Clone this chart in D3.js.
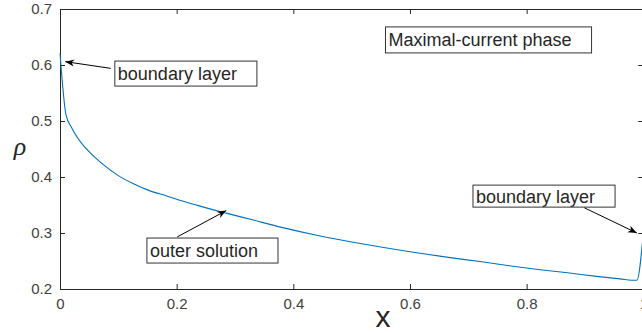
<!DOCTYPE html>
<html>
<head>
<meta charset="utf-8">
<script src="https://cdn.jsdelivr.net/npm/d3@7"></script>
<style>
  body { margin: 0; background: #fff; }
  svg { display: block; font-family: "Liberation Sans", Arial, sans-serif; }
</style>
</head>
<body>
<script>
// density profile
const xs = [0, 0.0103, 0.02, 0.03, 0.045, 0.06, 0.0686, 0.1, 0.126, 0.15, 0.183, 0.21, 0.24, 0.285, 0.33,
            0.38, 0.44, 0.5, 0.555, 0.6, 0.669, 0.72, 0.77, 0.823, 0.87, 0.92, 0.96, 0.989, 1.0];
const rho = [0.621, 0.511, 0.488, 0.470, 0.4505, 0.435, 0.427, 0.4025, 0.388, 0.377, 0.366, 0.357, 0.348, 0.3355, 0.3235,
             0.310, 0.296, 0.284, 0.274, 0.2665, 0.256, 0.249, 0.2415, 0.2345, 0.229, 0.2225, 0.218, 0.2155, 0.30];
const xTicks = [0, 0.2, 0.4, 0.6, 0.8, 1];
const yTicks = [0.2, 0.3, 0.4, 0.5, 0.6, 0.7];

// annotations: text box (data coords of the box's top-left), box height, arrow (from, to)
const notes = [
  { label: "Maximal-current phase", at: [0.558, 0.668], h: 26, arrow: null },
  { label: "boundary layer", at: [0.094, 0.607], h: 25, arrow: [[0.087, 0.594], [0.009, 0.606]] },
  { label: "boundary layer", at: [0.708, 0.3855], h: 22, arrow: [[0.899, 0.345], [0.989, 0.300]] },
  { label: "outer solution", at: [0.149, 0.291], h: 25, arrow: [[0.201, 0.293], [0.285, 0.340]] }
];

const width = 642, height = 333;
const margin = { top: 9, left: 60 };
const plotW = 583.3, plotH = 280;

const svg = d3.select('body').append('svg')
  .attr('width', width)
  .attr('height', height);

const x = d3.scaleLinear().domain([0, 1]).range([margin.left, margin.left + plotW]);
const y = d3.scaleLinear().domain([0.2, 0.7]).range([margin.top + plotH, margin.top]);

const axisColor = '#262626';
const fmt = d => d === 0 || d === 1 ? String(d) : d3.format('.1f')(d);

// axes box with inward ticks
function styleAxis(g) {
  g.select('.domain').attr('stroke', axisColor);
  g.selectAll('.tick line').attr('stroke', axisColor);
  g.selectAll('.tick text').attr('fill', '#404040').attr('font-size', 15)
    .attr('font-family', '"Liberation Sans", Arial, sans-serif');
}

svg.append('g')
  .attr('transform', `translate(0,${y(0.2)})`)
  .call(d3.axisBottom(x).tickValues(xTicks).tickFormat(fmt).tickSizeInner(-5).tickSizeOuter(0).tickPadding(9))
  .call(styleAxis);

svg.append('g')
  .attr('transform', `translate(0,${y(0.7)})`)
  .call(d3.axisTop(x).tickValues(xTicks).tickFormat('').tickSizeInner(-5).tickSizeOuter(0))
  .call(styleAxis);

svg.append('g')
  .attr('transform', `translate(${x(0)},0)`)
  .call(d3.axisLeft(y).tickValues(yTicks).tickFormat(fmt).tickSizeInner(-5).tickSizeOuter(0).tickPadding(8))
  .call(styleAxis);

svg.append('g')
  .attr('transform', `translate(${x(1)},0)`)
  .call(d3.axisRight(y).tickValues(yTicks).tickFormat('').tickSizeInner(-5).tickSizeOuter(0))
  .call(styleAxis);

// the curve
const pts = xs.map((d, i) => [d, rho[i]]);
svg.append('path')
  .datum(pts)
  .attr('fill', 'none')
  .attr('stroke', '#0072BD')
  .attr('stroke-width', 1.1)
  .attr('d', d3.line().x(d => x(d[0])).y(d => y(d[1])).curve(d3.curveMonotoneX));

// axis labels
svg.append('text')
  .attr('x', 383).attr('y', 327)
  .attr('text-anchor', 'middle')
  .attr('font-size', 30)
  .attr('fill', axisColor)
  .text('x');

svg.append('text')
  .attr('x', 20).attr('y', 155)
  .attr('text-anchor', 'middle')
  .attr('font-size', 26)
  .attr('font-style', 'italic')
  .attr('font-family', '"Liberation Serif", "Times New Roman", serif')
  .attr('fill', axisColor)
  .text('ρ');

// arrowhead
svg.append('defs').append('marker')
  .attr('id', 'head')
  .attr('viewBox', '0 0 10 10')
  .attr('refX', 10).attr('refY', 5)
  .attr('markerWidth', 9).attr('markerHeight', 9)
  .attr('markerUnits', 'userSpaceOnUse')
  .attr('orient', 'auto')
  .append('path')
  .attr('d', 'M0,1 L10,5 L0,9 L3,5 Z')
  .attr('fill', '#000');

const fontSize = 18;
notes.forEach(n => {
  const g = svg.append('g');
  const t = g.append('text')
    .attr('x', x(n.at[0]) + 3)
    .attr('y', y(n.at[1]) + n.h / 2 + 6.5)
    .attr('font-size', fontSize)
    .attr('fill', '#262626')
    .text(n.label);
  const w = t.node().getComputedTextLength();
  g.insert('rect', 'text')
    .attr('x', x(n.at[0]))
    .attr('y', y(n.at[1]))
    .attr('width', w + 23)
    .attr('height', n.h)
    .attr('fill', '#fff')
    .attr('stroke', '#333')
    .attr('stroke-width', 1);
  if (n.arrow) {
    svg.append('line')
      .attr('x1', x(n.arrow[0][0])).attr('y1', y(n.arrow[0][1]))
      .attr('x2', x(n.arrow[1][0])).attr('y2', y(n.arrow[1][1]))
      .attr('stroke', '#000')
      .attr('stroke-width', 1)
      .attr('marker-end', 'url(#head)');
  }
});
</script>
</body>
</html>
